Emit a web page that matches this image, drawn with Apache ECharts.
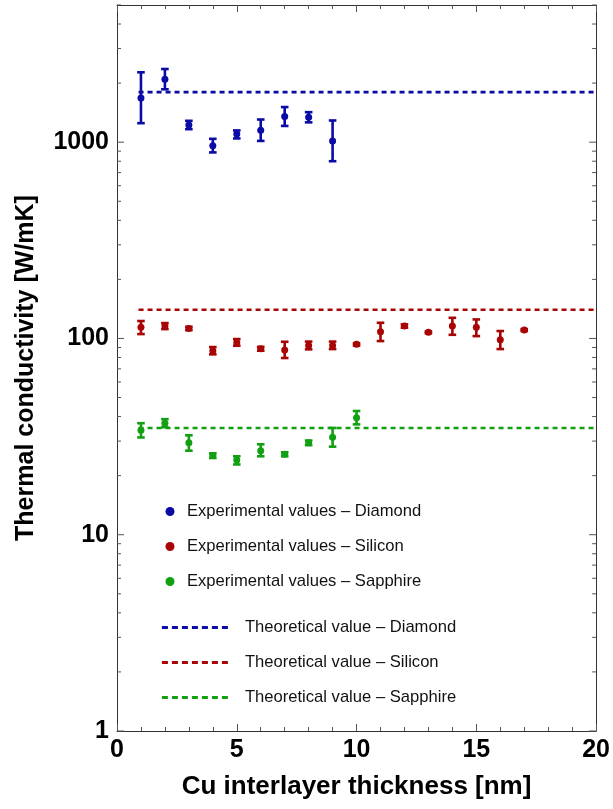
<!DOCTYPE html>
<html>
<head>
<meta charset="utf-8">
<script src="https://cdn.jsdelivr.net/npm/echarts@6/dist/echarts.min.js"></script>
<style>html,body{margin:0;padding:0;background:#fff}#c{width:613px;height:809px}</style>
</head>
<body>
<div id="c"></div>
<script>
// ---- data ----
const diamondX  = [1, 2, 3, 4, 5, 6, 7, 8, 9];
const diamondY  = [1680, 2090, 1222, 960, 1100, 1150, 1350, 1340, 1015];
const diamondLo = [1250, 1860, 1165, 887, 1045, 1015, 1210, 1262, 800];
const diamondHi = [2270, 2360, 1285, 1040, 1148, 1305, 1510, 1422, 1290];

const siliconX  = [1, 2, 3, 4, 5, 6, 7, 8, 9, 10, 11, 12, 13, 14, 15, 16, 17];
const siliconY  = [114, 115.7, 112.5, 86.5, 95.5, 88.6, 87.3, 92.2, 92.2, 93.3, 108.2, 115.7, 107.4, 115.7, 114, 98.5, 110.4];
const siliconLo = [105.3, 111.6, 110.3, 83, 91.8, 86.6, 79.5, 88, 88.3, 92, 97, 113.5, 106.3, 104.4, 102.8, 88.3, 109.2];
const siliconHi = [122.7, 119.8, 114.7, 90.4, 99.3, 90.6, 96.2, 96.4, 96.4, 94.6, 120.2, 118, 108.5, 127.4, 125, 109.1, 111.6];

const sapphireX  = [1, 2, 3, 4, 5, 6, 7, 8, 9, 10];
const sapphireY  = [34.1, 37.0, 29.4, 25.3, 24.0, 26.8, 25.7, 29.4, 31.4, 39.5];
const sapphireLo = [31.3, 35.3, 26.8, 24.6, 22.8, 25.1, 25.1, 28.6, 28.1, 36.5];
const sapphireHi = [37.0, 38.8, 32.1, 26.0, 25.1, 28.9, 26.3, 30.2, 35.0, 42.7];

const theoryNames  = ['Theoretical value \u2013 Diamond', 'Theoretical value \u2013 Silicon', 'Theoretical value \u2013 Sapphire'];
const theoryValues = [1800, 140, 35];
const theoryX      = [0.9, 20];

const expNames = ['Experimental values \u2013 Diamond', 'Experimental values \u2013 Silicon', 'Experimental values \u2013 Sapphire'];

const xTickLabels = [0, 5, 10, 15, 20];
const yTickLabels = [1, 10, 100, 1000];
const yMinorTicks = [2, 3, 4, 5, 6, 7, 8, 9, 20, 30, 40, 50, 60, 70, 80, 90,
                     200, 300, 400, 500, 600, 700, 800, 900, 2000, 3000, 4000, 5000];

// ---- styling ----
const colors = ['#0a0aa6', '#a80404', '#12a012'];
const FONT = 'Liberation Sans, Arial, sans-serif';

function errSeries(xs, lo, hi, color) {
  return {
    type: 'custom',
    silent: true,
    z: 3,
    data: xs.map((x, i) => [x, lo[i], hi[i]]),
    encode: { x: 0, y: [1, 2] },
    renderItem: (params, api) => {
      const x = api.value(0);
      const p1 = api.coord([x, api.value(1)]);
      const p2 = api.coord([x, api.value(2)]);
      const hw = 3.8;
      const st = { stroke: color, lineWidth: 2.6 };
      return { type: 'group', children: [
        { type: 'line', shape: { x1: p1[0], y1: p1[1], x2: p2[0], y2: p2[1] }, style: st },
        { type: 'line', shape: { x1: p1[0] - hw, y1: p1[1], x2: p1[0] + hw, y2: p1[1] }, style: st },
        { type: 'line', shape: { x1: p2[0] - hw, y1: p2[1], x2: p2[0] + hw, y2: p2[1] }, style: st }
      ]};
    }
  };
}

function tickSeries(vals, len) {
  return {
    type: 'custom', silent: true, z: 10, clip: false,
    data: vals.map(v => [0, v]),
    encode: { x: 0, y: 1 },
    renderItem: (params, api) => {
      const v = api.value(1);
      const l = api.coord([0, v]);
      const r = api.coord([20, v]);
      const st = { stroke: '#555', lineWidth: 1 };
      return { type: 'group', children: [
        { type: 'line', shape: { x1: l[0], y1: l[1], x2: l[0] + len, y2: l[1] }, style: st },
        { type: 'line', shape: { x1: r[0], y1: r[1], x2: r[0] - len, y2: r[1] }, style: st }
      ]};
    }
  };
}

const expSets = [
  [diamondX, diamondY, diamondLo, diamondHi],
  [siliconX, siliconY, siliconLo, siliconHi],
  [sapphireX, sapphireY, sapphireLo, sapphireHi]
];

const series = [];
expSets.forEach((s, i) => {
  series.push(errSeries(s[0], s[2], s[3], colors[i]));
});
expSets.forEach((s, i) => {
  series.push({
    name: expNames[i], type: 'scatter', symbol: 'circle', symbolSize: 7, z: 4,
    itemStyle: { color: colors[i], opacity: 1 },
    data: s[0].map((x, j) => [x, s[1][j]])
  });
});
theoryValues.forEach((v, i) => {
  series.push({
    name: theoryNames[i], type: 'line', symbol: 'circle', showSymbol: false, z: 2, silent: true,
    lineStyle: { color: colors[i], width: 2.6, type: [5, 4] },
    itemStyle: { color: 'rgba(0,0,0,0)', borderWidth: 0 },
    data: theoryX.map(x => [x, v])
  });
});
series.push(tickSeries(yMinorTicks, 4));
series.push(tickSeries(yTickLabels, 7));

const axisLineStyle = { onZero: false, lineStyle: { color: '#333', width: 1 } };

const option = {
  animation: false,
  backgroundColor: '#fff',
  textStyle: { fontFamily: FONT },
  grid: { left: 117, right: 15, top: 5, bottom: 78, containLabel: false },
  legend: [
    {
      data: expNames, orient: 'vertical', left: 165.5, top: 503, padding: 0,
      icon: 'circle', itemWidth: 9, itemHeight: 14, itemGap: 18,
      textStyle: { fontFamily: FONT, fontSize: 16.6, lineHeight: 16, color: '#111', padding: [0, 0, 0, 7.5] },
      selectedMode: false
    },
    {
      data: theoryNames, orient: 'vertical', left: 160.5, top: 619, padding: 0,
      itemWidth: 70, itemHeight: 14, itemGap: 18,
      itemStyle: { color: 'rgba(0,0,0,0)', borderWidth: 0 },
      lineStyle: { width: 2.8, type: [6, 4] },
      textStyle: { fontFamily: FONT, fontSize: 16.6, lineHeight: 16, color: '#111', padding: [0, 0, 0, 8] },
      selectedMode: false
    }
  ],
  xAxis: [
    {
      type: 'value', min: 0, max: 20, interval: 5, position: 'bottom',
      axisLine: axisLineStyle,
      axisTick: { show: true, inside: true, length: 7, lineStyle: { color: '#555' } },
      minorTick: { show: true, splitNumber: 5, length: 4, lineStyle: { color: '#555' } },
      splitLine: { show: false },
      axisLabel: { fontFamily: FONT, fontSize: 25, fontWeight: 'bold', color: '#000', margin: 7,
                   formatter: v => (xTickLabels.indexOf(v) >= 0 ? String(v) : '') },
      name: 'Cu interlayer thickness [nm]', nameLocation: 'middle', nameGap: 43,
      nameTextStyle: { fontFamily: FONT, fontSize: 26, fontWeight: 'bold', color: '#000' }
    },
    {
      type: 'value', min: 0, max: 20, interval: 5, position: 'top',
      axisLine: axisLineStyle,
      axisTick: { show: true, inside: true, length: 7, lineStyle: { color: '#555' } },
      minorTick: { show: true, splitNumber: 5, length: 4, lineStyle: { color: '#555' } },
      splitLine: { show: false },
      axisLabel: { show: false }
    }
  ],
  yAxis: [
    {
      type: 'log', logBase: 10, min: 1, max: 5000, position: 'left',
      axisLine: axisLineStyle,
      axisTick: { show: false },
      minorTick: { show: false },
      splitLine: { show: false },
      axisLabel: { fontFamily: FONT, fontSize: 25, fontWeight: 'bold', color: '#000', margin: 8,
                   showMaxLabel: false,
                   formatter: v => (yTickLabels.indexOf(Math.round(v)) >= 0 && Math.abs(v - Math.round(v)) < 1e-6 ? String(Math.round(v)) : '') },
      name: 'Thermal conductivity [W/mK]', nameLocation: 'middle', nameGap: 78,
      nameTextStyle: { fontFamily: FONT, fontSize: 25, fontWeight: 'bold', color: '#000' }
    },
    {
      type: 'log', logBase: 10, min: 1, max: 5000, position: 'right',
      axisLine: axisLineStyle,
      axisTick: { show: false }, minorTick: { show: false },
      splitLine: { show: false }, axisLabel: { show: false }
    }
  ],
  series: series
};

const chart = echarts.init(document.getElementById('c'), null, { renderer: 'canvas' });
chart.setOption(option);
</script>
</body>
</html>
